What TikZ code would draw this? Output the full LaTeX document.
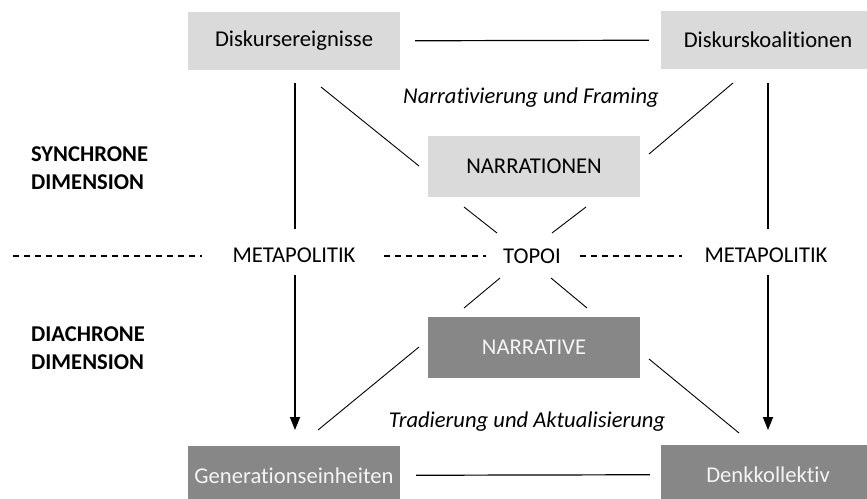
\documentclass[tikz,border=0pt]{standalone}
\usepackage{fontspec}
\setmainfont{Carlito}[Ligatures={NoCommon,NoContextual}]
\usetikzlibrary{arrows.meta}
\definecolor{boxlight}{HTML}{DADADA}
\definecolor{boxdark}{HTML}{878787}
\definecolor{boxtext}{HTML}{F4F4F4}
\begin{document}
\begin{tikzpicture}[x=1pt,y=-1pt,
  every node/.style={font=\fontsize{22.6}{28}\selectfont},
  lbox/.style={fill=boxlight, minimum width=212pt, minimum height=58pt, inner sep=0pt},
  dbox/.style={fill=boxdark, text=boxtext, minimum width=212pt, minimum height=59pt, inner sep=0pt},
  lab/.style={inner sep=0pt},
  itlab/.style={inner sep=0pt, font=\fontsize{22.6}{28}\selectfont\itshape},
  dimlab/.style={inner sep=0pt, anchor=west, align=left, font=\fontsize{22.6}{28}\selectfont\bfseries},
  hline/.style={line width=1.2pt},
  diag/.style={line width=0.9pt},
  vline/.style={line width=1.7pt},
  arr/.style={line width=1.7pt, -{Triangle[length=13pt,width=10pt]}},
  dline/.style={line width=1.1pt, dash pattern=on 6pt off 5pt}]
\useasboundingbox (0,0) rectangle (867,498);
\fill[white] (0,0) rectangle (867,498);
% boxes
\node[lbox] (A) at (294,41) {Diskursereignisse};
\node[lbox, minimum width=214pt] (B) at (768,40) {Diskurskoalitionen};
\node[lbox, minimum height=61pt] (N1) at (534,166.5) {NARRATIONEN};
\node[dbox, minimum height=61pt] (N2) at (534,347.5) {NARRATIVE};
\node[dbox] (G) at (294,475.5) {Generationseinheiten};
\node[dbox, minimum width=214pt] (D) at (768,474.5) {Denkkollektiv};
% labels
\node[lab] (M1) at (294,255) {METAPOLITIK};
\node[lab] (T) at (532,256) {TOPOI};
\node[lab] (M2) at (766,255) {METAPOLITIK};
\node[itlab] (NF) at (531,98) {Narrativierung und Framing};
\node[itlab] (TA) at (527,422) {Tradierung und Aktualisierung};
\node[dimlab] (S) at (31,168) {SYNCHRONE\\DIMENSION};
\node[dimlab] (DI) at (31,348.5) {DIACHRONE\\DIMENSION};
% coordinates
\coordinate (vL1) at (295,83);  \coordinate (vL2) at (295,229);
\coordinate (vL3) at (295,275); \coordinate (vL4) at (295,430);
\coordinate (vR1) at (768,83);  \coordinate (vR2) at (768,229);
\coordinate (vR3) at (768,275); \coordinate (vR4) at (768,430);
\coordinate (dA1) at (321,87);  \coordinate (dA2) at (419,166);
\coordinate (dB1) at (733,83);  \coordinate (dB2) at (649,154);
\coordinate (dG1) at (318,430); \coordinate (dG2) at (419,347);
\coordinate (dD1) at (739,433); \coordinate (dD2) at (649,359);
\coordinate (t1a) at (464,207); \coordinate (t1b) at (497,233);
\coordinate (t2a) at (586,207); \coordinate (t2b) at (552,233);
\coordinate (t3a) at (500,278); \coordinate (t3b) at (464,308);
\coordinate (t4a) at (551,278); \coordinate (t4b) at (587,308);
\coordinate (h1a) at (13,256);  \coordinate (h1b) at (202,256);
\coordinate (h2a) at (384,256); \coordinate (h2b) at (486,256);
\coordinate (h3a) at (580,256); \coordinate (h3b) at (682,256);
% horizontal connectors
\draw[hline, shorten <=15pt, shorten >=12pt] (A) -- (B);
\draw[hline, shorten <=16pt, shorten >=11pt] (G) -- (D);
% vertical
\draw[vline] (vL1) -- (vL2);
\draw[arr] (vL3) -- (vL4);
\draw[vline] (vR1) -- (vR2);
\draw[arr] (vR3) -- (vR4);
% diagonals
\draw[diag] (dA1) -- (dA2);
\draw[diag] (dB1) -- (dB2);
\draw[diag] (dG1) -- (dG2);
\draw[diag] (dD1) -- (dD2);
\draw[diag] (t1a) -- (t1b);
\draw[diag] (t2a) -- (t2b);
\draw[diag] (t3a) -- (t3b);
\draw[diag] (t4a) -- (t4b);
% dashed
\draw[dline] (h1a) -- (h1b);
\draw[dline] (h2a) -- (h2b);
\draw[dline] (h3a) -- (h3b);
\end{tikzpicture}
\end{document}
